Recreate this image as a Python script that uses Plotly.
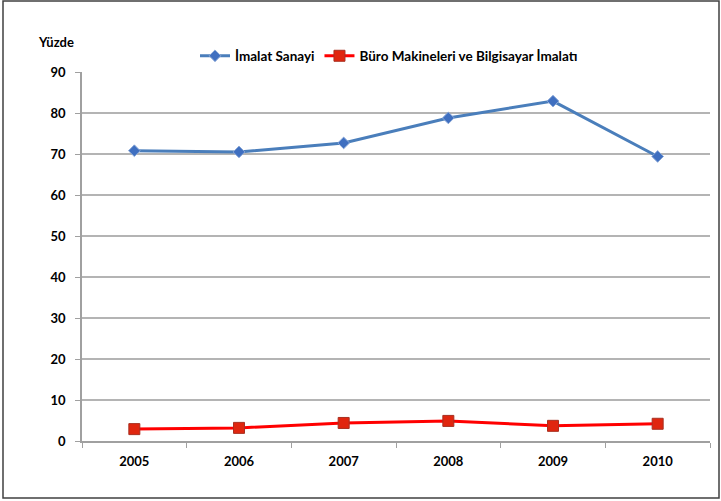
import plotly.graph_objects as go

years = ["2005", "2006", "2007", "2008", "2009", "2010"]
imalat = [70.8, 70.5, 72.7, 78.8, 82.9, 69.4]
buro = [2.9, 3.2, 4.4, 4.9, 3.7, 4.2]
y_ticks = [0, 10, 20, 30, 40, 50, 60, 70, 80, 90]

FONT = "Lato"
W, H = 721, 501
L, R, T, B = 82, 11, 72, 60
pw, ph = W - L - R, H - T - B

def px(x):
    return (x - L) / pw

def py(y):
    return (H - B - y) / ph

fig = go.Figure()
fig.add_trace(go.Scatter(
    x=years, y=imalat, name="İmalat Sanayi", mode="lines+markers",
    line=dict(color="#4a7ebb", width=3),
    marker=dict(symbol="diamond", size=9, color="#3f6fc0",
                line=dict(color="#8aa8d8", width=1)),
))
fig.add_trace(go.Scatter(
    x=years, y=buro, name="Büro Makineleri ve Bilgisayar İmalatı", mode="lines+markers",
    line=dict(color="#ff0000", width=3),
    marker=dict(symbol="square", size=11, color="#e0260f",
                line=dict(color="#a83020", width=1)),
))

fig.update_layout(
    width=W, height=H,
    margin=dict(l=L, r=R, t=T, b=B, autoexpand=False),
    paper_bgcolor="white", plot_bgcolor="white",
    font=dict(family=FONT, size=13, color="black"),
    showlegend=True,
    legend=dict(orientation="h", xref="container", yref="container",
                x=389 / W, xanchor="center", y=1 - 56 / H, yanchor="middle",
                font=dict(family=FONT, size=13.5, color="black", weight="bold"),
                tracegroupgap=0, bgcolor="rgba(0,0,0,0)"),
    xaxis=dict(
        type="category", range=[-0.5, 5.5], showgrid=False, automargin=False,
        showline=True, linecolor="#a0a0a0", linewidth=1.5,
        ticks="outside", tickson="boundaries", ticklen=5, tickcolor="#a0a0a0",
        tickfont=dict(family=FONT, size=13, weight="bold"),
        ticklabelstandoff=8,
        fixedrange=True,
    ),
    yaxis=dict(
        range=[0, 90], tickvals=y_ticks, showgrid=True, gridcolor="#b4b4b4", gridwidth=1.5,
        showline=True, linecolor="#a0a0a0", linewidth=1.5, automargin=False,
        ticks="outside", ticklen=5, tickcolor="#a0a0a0",
        tickfont=dict(family=FONT, size=13, weight="bold"),
        zeroline=False, ticklabelstandoff=7,
    ),
    annotations=[dict(
        text="Yüzde", x=px(56), y=py(42), xref="paper", yref="paper",
        xanchor="center", yanchor="middle", showarrow=False,
        font=dict(family=FONT, size=13, weight="bold", color="black"),
    )],
    shapes=[dict(
        type="rect", xref="paper", yref="paper",
        x0=px(3), x1=px(719), y0=py(498), y1=py(1),
        line=dict(color="#404040", width=1.5), fillcolor="rgba(0,0,0,0)", layer="below",
    )],
)

fig.write_html(
    "out.html",
    config={"displayModeBar": False},
    post_script="document.body.style.margin='0';document.body.style.overflow='hidden';",
)
